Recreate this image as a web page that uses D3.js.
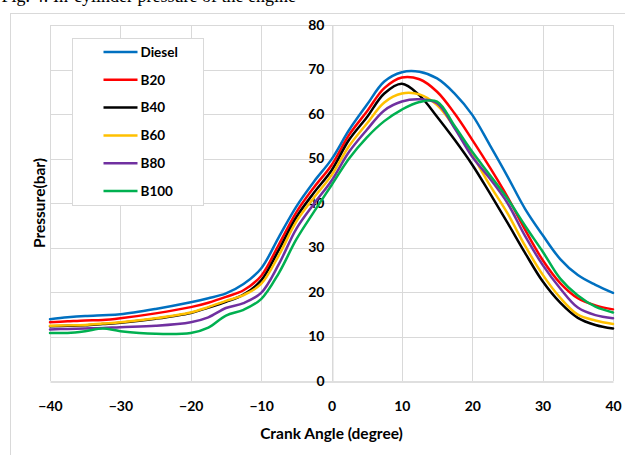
<!DOCTYPE html>
<html>
<head>
<meta charset="utf-8">
<script src="https://cdn.jsdelivr.net/npm/d3@7"></script>
<style>
  body { margin: 0; background: #fff; }
  text { font-family: Lato, "Liberation Sans", sans-serif; font-weight: 700; fill: #000; }
  .caption { font-family: "Liberation Serif", serif; font-weight: 400; }
</style>
</head>
<body>
<div class="display__svg"></div>
<script>
// crank angle (degree)
const angles = [-40, -37.5, -35, -32.5, -30, -25, -20, -17.5, -15, -12.5, -10, -7.5, -5, -2.5,
  0, 2.5, 5, 7.5, 10, 12.5, 15, 17.5, 20, 22.5, 25, 27.5, 30, 32.5, 35, 37.5, 40];

// pressure (bar)
const diesel = [13.9, 14.3, 14.6, 14.8, 15.0, 16.2, 17.7, 18.6, 19.7, 21.8, 25.3, 32.3, 39.2, 44.8,
  49.8, 56.4, 62, 67.3, 69.4, 69.5, 68, 64.6, 59.8, 53, 46, 38.7, 32.8, 27.4, 23.8, 21.6, 19.8];
const b20 = [13.2, 13.4, 13.6, 13.7, 14.1, 15.2, 16.6, 17.6, 18.9, 20.4, 23.6, 30.6, 37.9, 43.5,
  48.5, 55.3, 60.5, 65.8, 68.2, 67.8, 65, 60.1, 54.2, 48, 41.4, 34, 27.2, 22, 18.6, 17, 16.1];
const b40 = [12.3, 12.4, 12.5, 12.8, 13.1, 14.0, 15.3, 16.5, 17.8, 19.4, 22.6, 29.4, 36.8, 42.3,
  47.3, 54.2, 59.2, 64.6, 66.8, 64.2, 59.4, 54.2, 48.6, 42.2, 35.6, 28.8, 22.4, 17.6, 14.2, 12.6, 11.8];
const b60 = [12.4, 12.5, 12.6, 12.9, 13.2, 14.1, 15.4, 16.6, 18, 19.3, 21.8, 28.2, 35.8, 41.2,
  46.2, 52.8, 57.8, 62.6, 64.6, 64.4, 62, 57, 50.8, 44, 37.7, 30.4, 23.9, 18.7, 14.9, 13.6, 12.8];
const b80 = [11.6, 11.7, 11.8, 11.9, 12.1, 12.4, 13.2, 14.3, 16.4, 17.5, 19.8, 26.2, 34.2, 39.8,
  45, 51.5, 56.4, 60.8, 62.8, 63.3, 62.4, 56.8, 50.4, 45.5, 40, 32.6, 26.1, 20.8, 16.5, 14.8, 14.1];
const b100 = [10.8, 10.8, 11.2, 11.8, 11.2, 10.6, 10.8, 12.0, 14.7, 16, 18.4, 24.2, 31.8, 38,
  44, 50, 54.7, 58.4, 61, 62.7, 62.8, 57.3, 51.5, 46.3, 41, 34.9, 29.1, 23, 19.2, 16.7, 15.4];

const seriesNames = ["Diesel", "B20", "B40", "B60", "B80", "B100"];
const xTicks = [-40, -30, -20, -10, 0, 10, 20, 30, 40];
const yTicks = [0, 10, 20, 30, 40, 50, 60, 70, 80];

const colors = ["#0070C0", "#FF0000", "#000000", "#FFC000", "#7030A0", "#00B050"];
const seriesValues = [diesel, b20, b40, b60, b80, b100];
const series = seriesNames.map((name, i) => ({
  name,
  color: colors[i],
  values: angles.map((a, j) => ({ x: a, y: seriesValues[i][j] }))
}));

const width = 625, height = 455;

const svg = d3.select(".display__svg")
  .append("svg")
  .attr("width", width)
  .attr("height", height);

// caption of the figure, cut by the top edge as in the source
svg.append("text")
  .attr("class", "caption")
  .attr("x", 296)
  .attr("y", 2)
  .attr("text-anchor", "end")
  .style("font-size", "18px")
  .text("Fig. 4: In-cylinder pressure of the engine");

// chart frame
svg.append("rect")
  .attr("x", 10.5)
  .attr("y", 13.5)
  .attr("width", 620)
  .attr("height", 450)
  .attr("fill", "none")
  .attr("stroke", "#d9d9d9");

const x = d3.scaleLinear().domain([-40, 40]).range([50, 613]);
const y = d3.scaleLinear().domain([0, 80]).range([381, 25]);

// grid
svg.append("g")
  .selectAll("line")
  .data(yTicks.slice(1))
  .join("line")
  .attr("x1", x(-40)).attr("x2", x(40))
  .attr("y1", d => Math.round(y(d)) + 0.5)
  .attr("y2", d => Math.round(y(d)) + 0.5)
  .attr("stroke", "#d9d9d9");

svg.append("g")
  .selectAll("line")
  .data(xTicks)
  .join("line")
  .attr("x1", d => Math.round(x(d)) + 0.5)
  .attr("x2", d => Math.round(x(d)) + 0.5)
  .attr("y1", y(80)).attr("y2", y(0))
  .attr("stroke", "#d9d9d9");

// axes (labels only, lines are grid)
const xAxis = d3.axisBottom(x).tickValues(xTicks).tickSize(0).tickPadding(0);
svg.append("g")
  .attr("transform", `translate(0, ${Math.round(y(0)) + 0.5})`)
  .call(xAxis)
  .call(g => g.select(".domain").attr("stroke", "#bfbfbf"))
  .call(g => g.selectAll("text")
    .attr("dy", 0)
    .attr("y", 29)
    .style("font-size", "14px")
    .style("font-family", "Lato, sans-serif")
    .style("font-weight", 700));

const yAxis = d3.axisLeft(y).tickValues(yTicks).tickSize(0).tickPadding(8);
svg.append("g")
  .attr("transform", `translate(${Math.round(x(0)) + 0.5}, 0)`)
  .call(yAxis)
  .call(g => g.select(".domain").attr("stroke", "#d9d9d9"))
  .call(g => g.selectAll("text")
    .style("font-size", "14px")
    .style("font-family", "Lato, sans-serif")
    .style("font-weight", 700));

// lines
const line = d3.line()
  .x(d => x(d.x))
  .y(d => y(d.y))
  .curve(d3.curveCatmullRom.alpha(0.5));

svg.append("g")
  .selectAll("path")
  .data(series)
  .join("path")
  .attr("d", d => line(d.values))
  .attr("fill", "none")
  .attr("stroke", d => d.color)
  .attr("stroke-width", 2.5)
  .attr("stroke-linejoin", "round")
  .attr("stroke-linecap", "round");

// axis titles
svg.append("text")
  .attr("x", x(0))
  .attr("y", 439)
  .attr("text-anchor", "middle")
  .style("font-size", "15.5px")
  .text("Crank Angle (degree)");

svg.append("text")
  .attr("transform", `translate(45, 203) rotate(-90)`)
  .attr("text-anchor", "middle")
  .style("font-size", "15.5px")
  .text("Pressure(bar)");

// legend
const legend = svg.append("g").attr("transform", "translate(72.5, 38.5)");
legend.append("rect")
  .attr("width", 131)
  .attr("height", 167)
  .attr("fill", "#fff")
  .attr("stroke", "#d9d9d9");

const item = legend.selectAll("g.item")
  .data(series)
  .join("g")
  .attr("class", "item")
  .attr("transform", (d, i) => `translate(0, ${13.5 + i * 27.8})`);

item.append("line")
  .attr("x1", 31).attr("x2", 65)
  .attr("stroke", d => d.color)
  .attr("stroke-width", 2.5);

item.append("text")
  .attr("x", 68)
  .attr("dy", "0.35em")
  .style("font-size", "13.5px")
  .text(d => d.name);
</script>
</body>
</html>
